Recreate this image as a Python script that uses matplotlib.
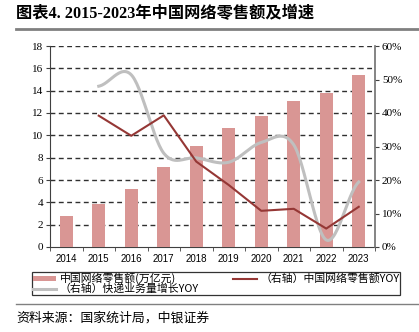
import numpy as np
import matplotlib
matplotlib.use('Agg')
import matplotlib.pyplot as plt
from matplotlib.patches import Patch
from matplotlib.lines import Line2D

years = ['2014', '2015', '2016', '2017', '2018', '2019', '2020', '2021', '2022', '2023']
retail = [2.79, 3.88, 5.16, 7.18, 9.01, 10.63, 11.76, 13.09, 13.79, 15.42]
retail_yoy = [39.2, 33.2, 39.3, 25.5, 18.5, 10.8, 11.4, 5.5, 12.0]  # 2015-2023
express_yoy = [48.0, 51.4, 28.0, 26.6, 25.3, 31.2, 30.5, 2.1, 19.4]  # 2015-2023

BAR = '#D99694'
RED = '#953735'
GRAY = '#BFBFBF'
CJK = ['Noto Sans CJK SC', 'DejaVu Sans']


def smooth(x, y, n=30):
    # Catmull-Rom style smoothing like Excel's smoothed line
    x = np.asarray(x, float)
    y = np.asarray(y, float)
    px = np.concatenate([[2 * x[0] - x[1]], x, [2 * x[-1] - x[-2]]])
    py = np.concatenate([[y[0]], y, [y[-1]]])
    xs, ys = [], []
    for i in range(1, len(px) - 2):
        t = np.linspace(0, 1, n)
        for arr, out in ((px, xs), (py, ys)):
            p0, p1, p2, p3 = arr[i - 1], arr[i], arr[i + 1], arr[i + 2]
            out.extend(0.5 * ((2 * p1) + (-p0 + p2) * t
                              + (2 * p0 - 5 * p1 + 4 * p2 - p3) * t ** 2
                              + (-p0 + 3 * p1 - 3 * p2 + p3) * t ** 3))
    return np.array(xs), np.array(ys)


fig = plt.figure(figsize=(4.19, 3.32), dpi=100)
ax = fig.add_axes([50 / 419, 1 - 247 / 332, 325 / 419, 201 / 332])
x = np.arange(len(years))

ax.bar(x, retail, width=0.4, color=BAR, zorder=3)
ax.set_xlim(-0.5, len(years) - 0.5)
ax.set_ylim(0, 18)
ax.set_yticks(range(0, 19, 2))
ax.set_yticklabels([str(v) for v in range(0, 19, 2)], family='Liberation Serif', fontsize=8)
for v in range(2, 19, 2):
    ax.axhline(v, color='#303030', lw=1.0, ls=(0, (3.5, 2.5)), zorder=1)
ax.set_xticks(x)
ax.set_xticklabels(years, family='Liberation Sans', fontsize=7)
ax.set_xticks(np.arange(-0.5, len(years), 1), minor=True)
ax.tick_params(axis='x', which='major', length=0, pad=5)
ax.tick_params(axis='x', which='minor', length=3, direction='out', color='#404040')
ax.tick_params(axis='y', length=3, direction='out', pad=2, color='#404040')
ax.spines['top'].set_visible(False)
ax.spines['right'].set_visible(False)
ax.spines['left'].set_color('#404040')
ax.spines['bottom'].set_color('#404040')

ax2 = ax.twinx()
ax2.set_ylim(0, 60)
ax2.set_yticks(range(0, 61, 10))
ax2.set_yticklabels([f'{v}%' for v in range(0, 61, 10)], family='Liberation Serif', fontsize=8)
ax2.tick_params(axis='y', length=3, direction='out', pad=2, color='#404040')
for s in ['top', 'left', 'bottom']:
    ax2.spines[s].set_visible(False)
ax2.spines['right'].set_color('#707070')
ax2.spines['right'].set_linewidth(1.2)

sx, sy = smooth(x[1:], express_yoy)
ax2.plot(sx, sy, color=GRAY, lw=2.2, zorder=4)
ax2.plot(x[1:], retail_yoy, color=RED, lw=1.5, zorder=5)

handles = [Patch(facecolor=BAR, edgecolor='none'),
           Line2D([], [], color=GRAY, lw=2.2),
           Line2D([], [], color=RED, lw=1.5)]
labels = ['中国网络零售额(万亿元)', '（右轴）快递业务量增长YOY', '（右轴）中国网络零售额YOY']
leg = fig.legend(handles, labels, ncol=2, loc='upper left', bbox_to_anchor=(32 / 419, 1 - 272 / 332),
                 prop={'family': CJK, 'size': 7.8}, frameon=True, fancybox=False,
                 edgecolor='black', borderpad=0.05, labelspacing=-0.05, handlelength=2.2,
                 handleheight=0.4, handletextpad=0.3, columnspacing=3.2, borderaxespad=0)
leg.get_frame().set_linewidth(0.9)

fig.text(16 / 419, 1 - 14 / 332, '图表4. 2015-2023年中国网络零售额及增速', family=['Liberation Serif', 'Noto Sans CJK SC'],
         fontweight='bold', fontsize=11.7, va='center', ha='left')
fig.add_artist(Line2D([16 / 419, 1], [1 - 29 / 332] * 2, color='#808080', lw=2))
fig.add_artist(Line2D([16 / 419, 1], [1 - 304 / 332] * 2, color='#808080', lw=1))
fig.text(16 / 419, 1 - 318 / 332, '资料来源：国家统计局，中银证券', family=CJK,
         fontsize=9.3, va='center', ha='left')

fig.savefig('out.png', dpi=100)
